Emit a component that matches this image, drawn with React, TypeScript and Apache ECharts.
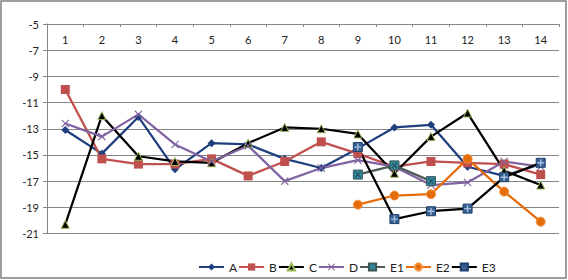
import React, { useEffect, useRef } from "react";
import * as echarts from "echarts";

const categories = ["1", "2", "3", "4", "5", "6", "7", "8", "9", "10", "11", "12", "13", "14"];
const seriesA = [-13.1, -14.9, -12.1, -16.1, -14.1, -14.2, -15.3, -16.0, -14.5, -12.9, -12.7, -15.9, -16.6, -15.7];
const seriesB = [-10.0, -15.3, -15.7, -15.7, -15.3, -16.6, -15.5, -14.0, -14.9, -15.9, -15.5, -15.6, -15.7, -16.5];
const seriesC = [-20.3, -12.0, -15.1, -15.5, -15.6, -14.1, -12.9, -13.0, -13.4, -16.4, -13.6, -11.8, -16.2, -17.3];
const seriesD = [-12.6, -13.6, -11.9, -14.2, -15.5, -14.3, -17.0, -16.0, -15.4, -15.9, -17.3, -17.1, -15.5, -15.9];
const seriesE1 = [null, null, null, null, null, null, null, null, -16.5, -15.8, -17.0, null, null, null];
const seriesE2 = [null, null, null, null, null, null, null, null, -18.8, -18.1, -18.0, -15.3, -17.8, -20.1];
const seriesE3 = [null, null, null, null, null, null, null, null, -14.4, -19.9, -19.3, -19.1, -16.7, -15.6];

const X_SYMBOL = "path://M0,1 L1,0 L5,4 L9,0 L10,1 L6,5 L10,9 L9,10 L5,6 L1,10 L0,9 L4,5 Z";
const PLUS_SYMBOL = "path://M4,0 H6 V4 H10 V6 H6 V10 H4 V6 H0 V4 H4 Z";

export default function App() {
  const ref = useRef<HTMLDivElement>(null);
  useEffect(() => {
    document.body.style.margin = "0";
    const chart = echarts.init(ref.current!, null, { renderer: "svg" });
    const font = "Lato, 'Liberation Sans', sans-serif";
    const line = (name: string, data: any[], color: string, symbol: string, size: number, extra: any = {}) => ({
      name,
      type: "line",
      data,
      symbol,
      symbolSize: size,
      showAllSymbol: true,
      connectNulls: false,
      lineStyle: { color, width: 2.25 },
      itemStyle: { color: extra.fill || color, borderColor: extra.border || color, borderWidth: extra.bw ?? 0, opacity: 1 },
      emphasis: { disabled: true },
      z: extra.z || 2,
    });
    chart.setOption({
      animation: false,
      backgroundColor: "#ffffff",
      textStyle: { fontFamily: font },
      grid: { left: 47, right: 9, top: 24, bottom: 46.5 },
      legend: {
        left: 198,
        top: 261,
        padding: 0,
        itemWidth: 25,
        itemHeight: 9,
        itemGap: 1,
        textStyle: { fontSize: 12, color: "#222", fontFamily: font },
        data: ["A", "B", "C", "D", "E1", "E2", "E3"],
      },
      xAxis: {
        type: "category",
        position: "top",
        data: categories,
        boundaryGap: true,
        axisLine: { show: true, lineStyle: { color: "#868686", width: 1 } },
        axisTick: { show: true, inside: true, length: 3, lineStyle: { color: "#868686" } },
        axisLabel: { inside: true, margin: 10, fontSize: 11, color: "#222", fontFamily: font },
        splitLine: { show: false },
      },
      yAxis: {
        type: "value",
        min: -21,
        max: -5,
        interval: 2,
        axisLine: { show: true, lineStyle: { color: "#868686", width: 1 } },
        axisTick: { show: true, length: 4, lineStyle: { color: "#868686" } },
        axisLabel: { fontSize: 11, color: "#222", margin: 8, fontFamily: font },
        splitLine: { show: true, lineStyle: { color: "#868686", width: 1 } },
      },
      graphic: [
        {
          type: "rect",
          shape: { x: 1, y: 1, width: 565, height: 277 },
          style: { fill: "none", stroke: "#7f7f7f", lineWidth: 1.5 },
          silent: true,
        },
      ],
      series: [
        line("A", seriesA, "#1F3F7F", "diamond", 8),
        line("B", seriesB, "#C0504D", "rect", 9),
        line("C", seriesC, "#000000", "triangle", 8, { border: "#9BBB59", bw: 1 }),
        line("D", seriesD, "#8064A2", X_SYMBOL, 8),
        line("E1", seriesE1, "#4D5B5B", "rect", 9, { fill: "#31859C", border: "#3A5656", bw: 1 }),
        line("E2", seriesE2, "#E46C0A", "circle", 9, { border: "#F79646", bw: 1 }),
        line("E3", seriesE3, "#000000", "rect", 9, { fill: "#376092", border: "#1F3F6F", bw: 1 }),
        {
          name: "E1x",
          type: "scatter",
          data: seriesE1,
          symbol: X_SYMBOL,
          symbolSize: 6,
          itemStyle: { color: "#203838" },
          emphasis: { disabled: true },
          z: 3,
        },
        {
          name: "E3x",
          type: "scatter",
          data: seriesE3,
          symbol: PLUS_SYMBOL,
          symbolSize: 7,
          itemStyle: { color: "#C6D9F1" },
          emphasis: { disabled: true },
          z: 3,
        },
      ],
    });
    return () => chart.dispose();
  }, []);
  return <div ref={ref} style={{ width: 568, height: 280 }} />;
}
